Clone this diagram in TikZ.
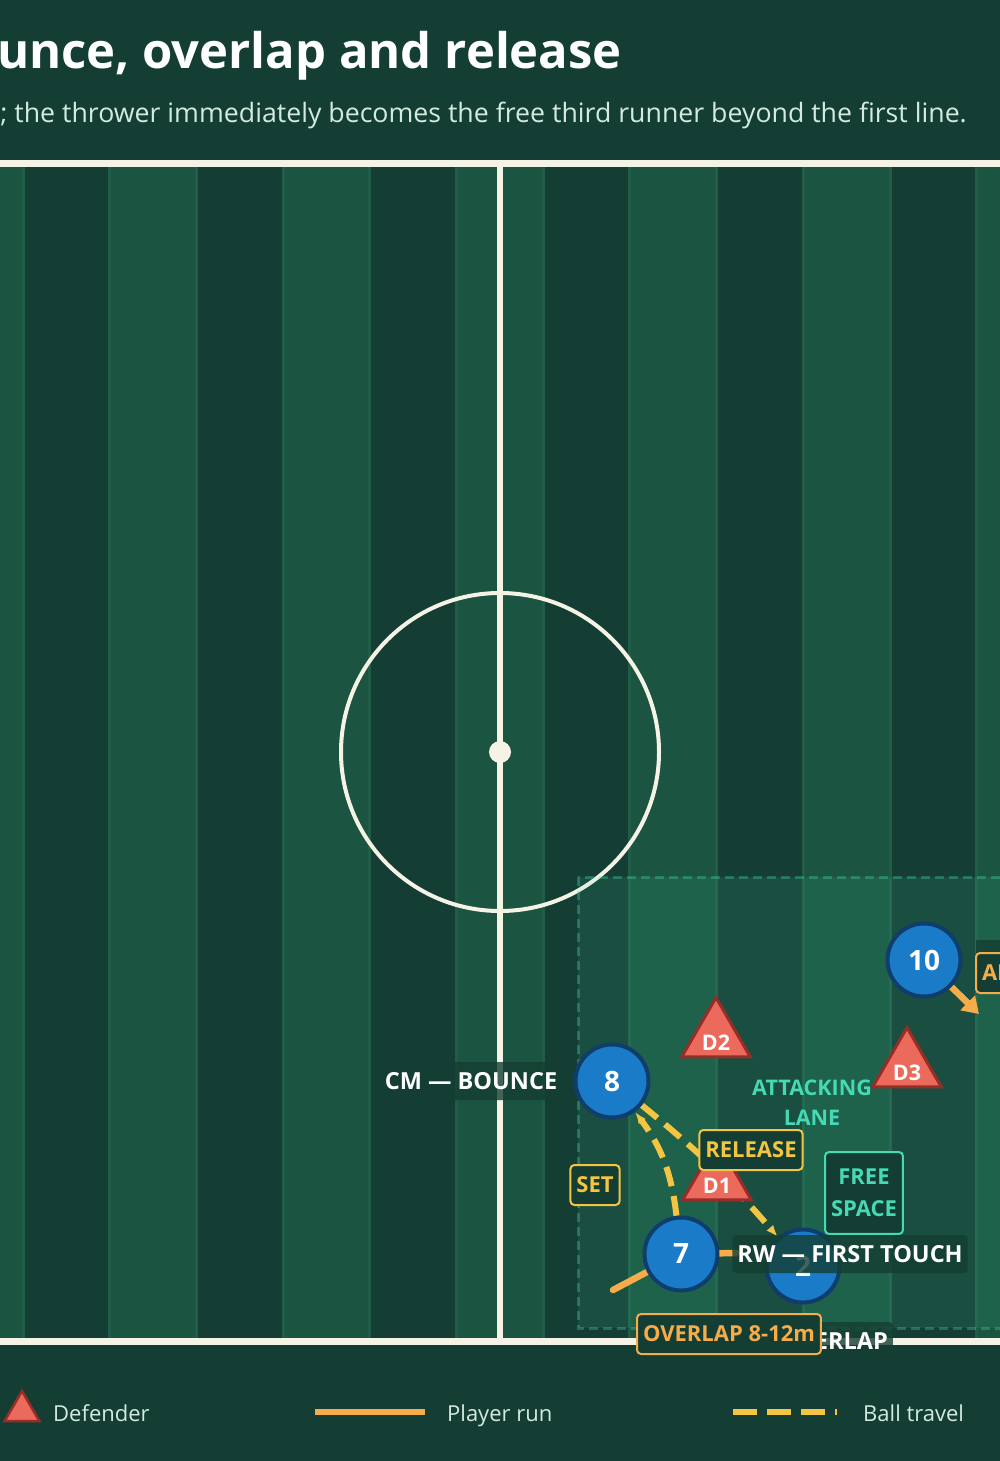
\documentclass[tikz,border=0pt]{standalone}
\usepackage{fontspec}
\setmainfont{Open Sans}
\usetikzlibrary{arrows.meta, positioning, shapes.geometric, calc}

\definecolor{bgdark}{HTML}{143E33}
\definecolor{stripelight}{HTML}{1B5440}
\definecolor{stripeedge}{HTML}{1F5D47}
\definecolor{chalk}{HTML}{F5F2E6}
\definecolor{zoneteal}{HTML}{4BE0B8}
\definecolor{playerblue}{HTML}{1A7BC8}
\definecolor{playeredge}{HTML}{0F3E6C}
\definecolor{defred}{HTML}{EC6A5C}
\definecolor{defedge}{HTML}{962E27}
\definecolor{ballyellow}{HTML}{F4C542}
\definecolor{runorange}{HTML}{F7AC4A}
\definecolor{laneteal}{HTML}{46D9B3}
\definecolor{subtext}{HTML}{D3EBDF}

\pgfdeclarelayer{back}
\pgfdeclarelayer{links}
\pgfsetlayers{back,links,main}

\tikzset{
  player/.style={circle, minimum size=73pt, inner sep=0pt, fill=playerblue,
    draw=playeredge, line width=4pt, text=white,
    font=\fontsize{28}{30}\selectfont\bfseries},
  defshape/.style={regular polygon, regular polygon sides=3, inner sep=0pt,
    fill=defred, draw=defedge, line width=3pt},
  defender/.style={defshape, minimum size=79pt,
    label={[text=white, font=\fontsize{21.5}{22}\selectfont\bfseries, yshift=-6pt]center:#1}},
  tag/.style={fill=bgdark, fill opacity=0.8, text opacity=1, text=white,
    rounded corners=4pt, inner xsep=5pt, minimum height=38pt,
    font=\fontsize{23.5}{24}\selectfont\bfseries},
  callout/.style={draw=#1, text=#1, fill=bgdark, line width=2pt,
    rounded corners=4pt, inner xsep=6pt, minimum height=40pt, align=center,
    font=\fontsize{22}{32}\selectfont\bfseries},
  ball/.style={ballyellow, line width=6pt, dash pattern=on 20pt off 10pt},
  run/.style={runorange, line width=6.5pt, line cap=round},
  legendtext/.style={text=subtext, anchor=base west, inner sep=0pt,
    font=\fontsize{22}{24}\selectfont},
}

\begin{document}
\begin{tikzpicture}[x=1pt, y=-1pt]
  \useasboundingbox (0,0) rectangle (1000,1461);

  % pitch
  \begin{pgfonlayer}{back}
    \fill[bgdark] (0,0) rectangle (1000,1461);
    \fill[stripelight] (0,167) rectangle (1000,1338);
    \foreach \i in {0,...,5}
      \fill[bgdark] ({23+173.4*\i},167) rectangle ({109.7+173.4*\i},1338);
    \foreach \i in {0,...,11}
      \draw[stripeedge, line width=3pt] ({23+86.7*\i},167) -- ({23+86.7*\i},1338);
    \draw[chalk, line width=7pt] (-5,163.5) -- (1005,163.5);
    \draw[chalk, line width=7pt] (-5,1341) -- (1005,1341);
    \draw[chalk, line width=6pt] (500,163) -- (500,1341);
    \draw[chalk, line width=4pt] (500,752) circle[radius=159];
    \fill[chalk] (500,752) circle[radius=11];
    % zone of the move
    \fill[zoneteal, fill opacity=0.1] (578,877) rectangle (1010,1328);
    \draw[zoneteal, opacity=0.3, line width=3pt, dash pattern=on 9pt off 5pt]
      (578,877) rectangle (1010,1328);
  \end{pgfonlayer}

  % title
  \node[anchor=base east, inner sep=0pt, text=white,
    font=\fontsize{49}{56}\selectfont\bfseries] (title) at (622,69)
    {unce, overlap and release};
  \node[anchor=base east, inner sep=0pt, text=subtext,
    font=\fontsize{26.7}{30}\selectfont] (subtitle) at (967,123)
    {; the thrower immediately becomes the free third runner beyond the first line.};

  % players
  \node[player] (p10) at (924,960) {10};
  \node[player] (p8) at (612,1081) {8};
  \node[player] (p7) at (681,1254) {7};
  \node[player] (p2) at (803,1266) {2};

  % defenders
  \node[defender=D2] (d2) at (716,1037) {};
  \node[defender=D3] (d3) at (907,1067) {};
  \node[defender=D1] (d1) at (717,1180) {};

  % runs and passes
  \coordinate (ovstart) at (613,1290);
  \coordinate (ovend) at (736,1253);
  \coordinate (tenrun) at (979,1014);
  \begin{pgfonlayer}{links}
    \draw[ball, -{Latex[length=12pt]}] (p7) to[bend right=15] (p8);
    \draw[ball, -{Latex[length=12pt]}] (p8) to[bend left=5] (p2);
    \draw[run] (ovstart) -- (p7.center) -- (ovend);
    \draw[run, -{Triangle[length=16pt, width=20pt]}] (p10) -- (tenrun);
  \end{pgfonlayer}

  % labels
  \node[tag] (cmtag) at (471,1081) {CM — BOUNCE};
  \node[tag] (rwtag) at (850,1254) {RW — FIRST TOUCH};
  \node[tag, anchor=east] (rbtag) at (893,1341) {OVERLAP};
  \node[callout=ballyellow] (settag) at (595,1185) {SET};
  \node[callout=ballyellow] (reltag) at (751,1150) {RELEASE};
  \node[callout=laneteal, inner ysep=17pt] (freetag) at (864,1193) {FREE\\SPACE};
  \node[callout=runorange] (ovtag) at (729,1334) {OVERLAP 8-12m};
  \node[text=laneteal, align=center, font=\fontsize{21.5}{30}\selectfont\bfseries]
    (lane) at (812,1103) {ATTACKING\\LANE};
  \fill[bgdark, opacity=0.8] (976,940) rectangle (1010,985);
  \node[callout=runorange, anchor=west, align=left, text width=40pt] (aitag)
    at (975,973) {AI};

  % legend
  \node[defshape, minimum size=40pt, line width=2.5pt] (legdef) at (22,1411) {};
  \node[legendtext] (legdeftxt) at (53,1421) {Defender};
  \coordinate (legrunA) at (315,1412);
  \coordinate (legrunB) at (425,1412);
  \draw[run, line cap=butt] (legrunA) -- (legrunB);
  \node[legendtext] (legruntxt) at (447,1421) {Player run};
  \coordinate (legballA) at (733,1412);
  \coordinate (legballB) at (837,1412);
  \draw[ball, dash pattern=on 24pt off 10pt] (legballA) -- (legballB);
  \node[legendtext] (legballtxt) at (863,1421) {Ball travel};
\end{tikzpicture}
\end{document}
